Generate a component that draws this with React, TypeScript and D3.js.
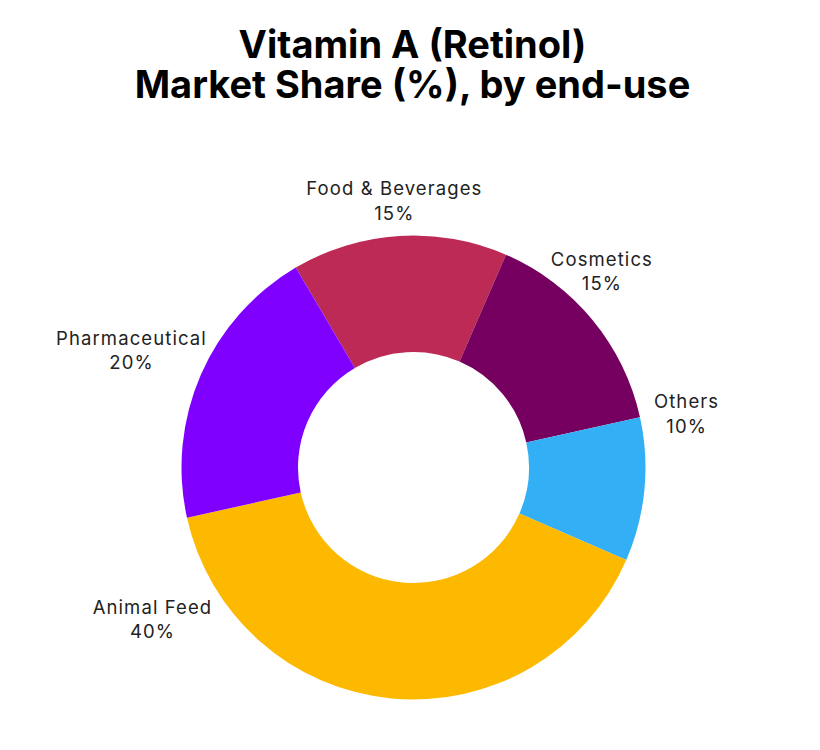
import React from "react";
import * as d3 from "d3";

const categories = ["Food & Beverages", "Cosmetics", "Others", "Animal Feed", "Pharmaceutical"];
const shares = [15, 15, 10, 40, 20];
const colors = ["#BD2A55", "#75005F", "#33AFF5", "#FDB900", "#8000FF"];
const titleLines = ["Vitamin A (Retinol)", "Market Share (%), by end-use"];

const W = 820;
const H = 750;

export default function App() {
  const cx = 413.5;
  const cy = 467.5;
  const outerR = 232;
  const innerR = 115.5;
  const start = (-30.5 * Math.PI) / 180;

  const pie = d3
    .pie<number>()
    .sort(null)
    .value((d) => d)
    .startAngle(start)
    .endAngle(start + 2 * Math.PI);
  const arcs = pie(shares);
  const arc = d3.arc<d3.PieArcDatum<number>>().innerRadius(innerR).outerRadius(outerR);

  // label placement (angle in degrees from top, clockwise; radius from centre)
  const labelPolar: [number, number][] = [
    [-4.2, 268],
    [43.7, 272],
    [78.7, 278],
    [240, 302],
    [292.6, 306],
  ];

  return (
    <svg
      width={W}
      height={H}
      style={{ position: "absolute", left: 0, top: 0, background: "#fff" }}
      fontFamily="Inter, 'Noto Sans', sans-serif"
    >
      <rect width={W} height={H} fill="#fff" />
      {titleLines.map((t, i) => (
        <text
          key={i}
          x={412.5}
          y={58 + i * 40}
          textAnchor="middle"
          fontSize={38}
          fontWeight={700}
          fill="#000"
        >
          {t}
        </text>
      ))}
      <g transform={`translate(${cx},${cy})`}>
        {arcs.map((a, i) => (
          <path key={i} d={arc(a) || ""} fill={colors[i]} />
        ))}
        {arcs.map((a, i) => {
          const [deg, r] = labelPolar[i];
          const ang = (deg * Math.PI) / 180;
          const x = r * Math.sin(ang) + 0.5;
          const y = -r * Math.cos(ang);
          return (
            <text
              key={"l" + i}
              textAnchor="middle"
              fontSize={18.5}
              letterSpacing={1.1}
              fill="#222"
            >
              <tspan x={x} y={y - 5}>{categories[i]}</tspan>
              <tspan x={x} y={y + 19.5}>{`${shares[i]}%`}</tspan>
            </text>
          );
        })}
      </g>
    </svg>
  );
}
